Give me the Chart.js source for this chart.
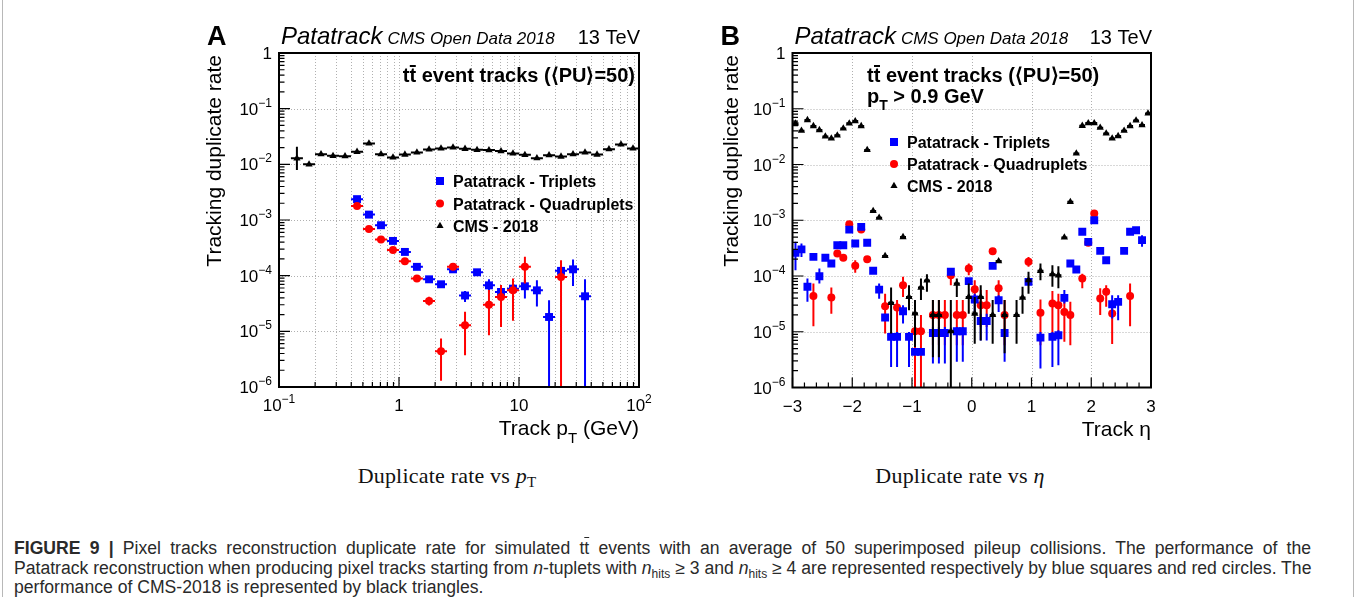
<!DOCTYPE html>
<html>
<head>
<meta charset="utf-8">
<script src="https://cdn.jsdelivr.net/npm/chart.js@4.4.0/dist/chart.umd.min.js"></script>
<style>
  body { margin: 0; background: #fff; width: 1356px; height: 597px; position: relative; overflow: hidden; font-family: "Liberation Sans", Arial, sans-serif; }
  canvas { position: absolute; top: 10px; }
  #chartA { left: 195px; }
  #chartB { left: 705px; }
  .edge { position: absolute; top: 0; width: 1px; height: 597px; background: #b8b8b8; }
  .sub { position: absolute; top: 465px; width: 280px; text-align: center; font-family: "Liberation Serif", "DejaVu Serif", serif; font-size: 22px; letter-spacing: 0.2px; line-height: 22px; color: #111; }
  .sub sub { font-size: 15px; vertical-align: -4px; line-height: 0; }
  .cap { position: absolute; left: 14px; font-size: 17.6px; line-height: 20px; color: #2a2a2a; white-space: nowrap; }
  .just { width: 1297px; text-align: justify; text-align-last: justify; }
  .cap sub { font-size: 12px; vertical-align: -4px; line-height: 0; }
  .ov { text-decoration: overline; }
</style>
</head>
<body>
<div class="edge" style="left:2px"></div>
<div class="edge" style="left:1353px"></div>
<canvas id="chartA" width="470" height="450"></canvas>
<canvas id="chartB" width="470" height="450"></canvas>
<div class="sub" style="left:307px">Duplicate rate vs <i>p</i><sub>T</sub></div>
<div class="sub" style="left:820px">Duplicate rate vs <i>η</i></div>
<div class="cap just" style="top:538px"><b>FIGURE 9 |</b> Pixel tracks reconstruction duplicate rate for simulated t<span class="ov">t</span> events with an average of 50 superimposed pileup collisions. The performance of the</div>
<div class="cap just" style="top:557.5px">Patatrack reconstruction when producing pixel tracks starting from <i>n</i>-tuplets with <i>n</i><sub>hits</sub> ≥ 3 and <i>n</i><sub>hits</sub> ≥ 4 are represented respectively by blue squares and red circles. The</div>
<div class="cap" style="top:577px">performance of CMS-2018 is represented by black triangles.</div>
<script>
// ---- panel A : duplicate rate vs pT (bin centres, GeV) ----
const ptCenters = [0.141, 0.178, 0.224, 0.282, 0.355, 0.447, 0.562, 0.708, 0.891, 1.12,
  1.41, 1.78, 2.24, 2.82, 3.55, 4.47, 5.62, 7.08, 8.91, 11.2,
  14.1, 17.8, 22.4, 28.2, 35.5, 44.7, 56.2, 70.8, 89.1];

const cmsPt = [0.0128, 0.0100, 0.0152, 0.0142, 0.0140, 0.0168, 0.0237, 0.0152, 0.0133, 0.0150,
  0.0163, 0.0185, 0.0193, 0.0201, 0.0190, 0.0182, 0.0180, 0.0173, 0.0157, 0.0148,
  0.0129, 0.0146, 0.0138, 0.0152, 0.0163, 0.0150, 0.0187, 0.0228, 0.0193];
const cmsPtLo = [0.0079, null, null, null, null, null, null, null, null, null,
  null, null, null, null, null, null, null, null, null, null,
  null, null, null, null, null, null, null, null, null];
const cmsPtHi = [0.0207, null, null, null, null, null, null, null, null, null,
  null, null, null, null, null, null, null, null, null, null,
  null, null, null, null, null, null, null, null, null];

const tripPt = [null, null, null, null, null, 2.37e-3, 1.25e-3, 8.05e-4, 4.21e-4, 2.67e-4,
  1.44e-4, 8.6e-5, 7.0e-5, 1.30e-4, 4.4e-5, 1.15e-4, 6.7e-5, 5.1e-5, 5.85e-5, 6.45e-5,
  5.45e-5, 1.81e-5, 1.22e-4, 1.30e-4, 4.26e-5, null, null, null, null];
const tripPtLo = [null, null, null, null, null, null, null, null, null, null,
  null, null, null, null, 3.37e-5, null, 5.1e-5, 4.0e-5, 4.8e-5, 3.9e-5,
  2.8e-5, 1e-7, 1.02e-4, 6.5e-5, 1e-7, null, null, null, null];
const tripPtHi = [null, null, null, null, null, null, null, null, null, null,
  null, null, null, null, 5.3e-5, null, 8.6e-5, 6.3e-5, 7.0e-5, 8.5e-5,
  8.3e-5, 3.6e-5, 1.48e-4, 1.95e-4, 8.6e-5, null, null, null, null];

const quadPt = [null, null, null, null, null, 1.79e-3, 6.9e-4, 4.45e-4, 2.9e-4, 1.82e-4,
  8.9e-5, 3.5e-5, 4.4e-6, 1.44e-4, 1.28e-5, null, 3.0e-5, 4.15e-5, 5.45e-5, 1.44e-4,
  null, null, 9.5e-5, null, null, null, null, null, null];
const quadPtLo = [null, null, null, null, null, null, null, null, null, null,
  null, 2.9e-5, 1.3e-6, null, 3.7e-6, null, 8.5e-6, 1.2e-5, 1.55e-5, 7.2e-5,
  null, null, 1e-7, null, null, null, null, null, null];
const quadPtHi = [null, null, null, null, null, null, null, null, null, null,
  null, 4.2e-5, 7.4e-6, null, 2.24e-5, null, 5.5e-5, 6.8e-5, 8.9e-5, 2.19e-4,
  null, null, 1.9e-4, null, null, null, null, null, null];

// ---- panel B : duplicate rate vs eta ----
const etaCenters = [-2.95, -2.85, -2.75, -2.65, -2.55, -2.45, -2.35, -2.25, -2.15, -2.05,
  -1.95, -1.85, -1.75, -1.65, -1.55, -1.45, -1.35, -1.25, -1.15, -1.05,
  -0.95, -0.85, -0.75, -0.65, -0.55, -0.45, -0.35, -0.25, -0.15, -0.05,
  0.05, 0.15, 0.25, 0.35, 0.45, 0.55, 0.65, 0.75, 0.85, 0.95,
  1.05, 1.15, 1.25, 1.35, 1.45, 1.55, 1.65, 1.75, 1.85, 1.95,
  2.05, 2.15, 2.25, 2.35, 2.45, 2.55, 2.65, 2.75, 2.85, 2.95];

const cmsEta = [0.0547, 0.0403, 0.0627, 0.0489, 0.0415, 0.0319, 0.0294, 0.0333, 0.0444, 0.0547,
  0.0601, 0.0489, 0.0182, 1.47e-3, 1.11e-3, 2.29e-4, 3.3e-5, null, 5.0e-4, 4.2e-5,
  2.14e-5, 6.2e-5, 8.3e-5, 2.0e-5, 2.0e-5, null, 1.02e-5, 7.3e-5, null, 4.2e-5,
  2.12e-5, 4.2e-5, null, 2.0e-5, 1.85e-4, 2.0e-5, null, 2.0e-5, 4.1e-5, 8.4e-5,
  null, 1.24e-4, null, 1.08e-4, 1.03e-4, 4.9e-4, 2.14e-3, 0.0158, 0.0495, 0.0553,
  0.0553, 0.0456, 0.0361, 0.0294, 0.0324, 0.0403, 0.0489, 0.0618, 0.0509, 0.0826];
const cmsEtaLo = [null, null, null, null, null, null, null, null, null, null,
  null, null, null, null, null, null, 9.3e-6, null, null, 2.43e-5,
  5.3e-6, 3.7e-5, 5.2e-5, 3.5e-6, 3.5e-6, null, 1e-7, 4.2e-5, null, 2.1e-5,
  6.1e-6, 7.0e-6, null, 6.1e-6, null, 4.1e-6, null, 6.1e-6, 2.1e-5, 4.8e-5,
  null, 8.4e-5, null, 6.4e-5, 6.0e-5, null, null, null, null, null,
  null, null, null, null, null, null, null, null, null, null];
const cmsEtaHi = [null, null, null, null, null, null, null, null, null, null,
  null, null, null, null, null, null, 6.2e-5, null, null, 6.8e-5,
  3.7e-5, 9.0e-5, 1.08e-4, 3.7e-5, 3.7e-5, null, 3.7e-5, 9.0e-5, null, 7.3e-5,
  4.2e-5, 6.8e-5, null, 3.7e-5, null, 3.7e-5, null, 3.7e-5, 6.4e-5, 1.19e-4,
  null, 1.67e-4, null, 1.56e-4, 1.5e-4, null, null, null, null, null,
  null, null, null, null, null, null, null, null, null, null];

const tripEta = [2.6e-4, 3.0e-4, 6.4e-5, 2.2e-4, 9.9e-5, 2.12e-4, 1.67e-4, 3.57e-4, 3.57e-4, 6.8e-4,
  3.83e-4, 7.6e-4, 3.94e-4, 1.24e-4, 5.7e-5, 1.8e-5, 8.1e-6, 8.1e-6, 2.33e-5, 8.1e-6,
  4.35e-6, 4.35e-6, null, 9.5e-6, 9.5e-6, 9.5e-6, 1.19e-4, 1.02e-5, 1.02e-5, 8.1e-5,
  3.78e-5, 1.56e-5, 1.56e-5, 1.52e-4, 3.67e-5, 9.5e-6, null, null, null, 7.85e-5,
  null, 7.85e-6, null, 8.1e-6, 8.65e-6, 4.05e-5, 1.67e-4, 1.31e-4, 6.2e-4, 4.1e-4,
  1.0e-3, 2.82e-4, 1.92e-4, 3.12e-5, 3.44e-5, 2.82e-4, 6.2e-4, 6.6e-4, 4.4e-4, null];
const tripEtaLo = [1.27e-4, 2.2e-4, 3.44e-5, null, 7.3e-5, null, null, null, null, null,
  null, null, null, null, 3.9e-5, null, 2.33e-6, 2.33e-6, 1.4e-5, 2.33e-6,
  null, null, null, 2.7e-6, 2.7e-6, 2.7e-6, null, 2.9e-6, 2.9e-6, null,
  2.1e-5, 7.0e-6, 7.0e-6, null, 2.27e-5, 2.9e-6, null, null, null, null,
  null, 2.2e-6, null, 2.33e-6, 2.5e-6, 3.2e-5, null, null, null, null,
  null, null, null, 1.73e-5, 1.61e-5, null, null, null, 3.33e-4, null];
const tripEtaHi = [4.1e-4, 3.83e-4, 9.0e-5, null, 1.36e-4, null, null, null, null, null,
  null, null, null, null, 7.3e-5, null, 9.9e-6, 9.9e-6, 3.0e-5, 9.9e-6,
  null, null, null, 1.22e-5, 1.22e-5, 1.22e-5, null, 1.22e-5, 1.22e-5, null,
  4.8e-5, 2.1e-5, 2.1e-5, null, 4.5e-5, 1.14e-5, null, null, null, null,
  null, 9.9e-6, null, 9.9e-6, 1.06e-5, 5.6e-5, null, null, null, null,
  null, null, null, 4.5e-5, 4.5e-5, null, null, null, 5.4e-4, null];

const quadEta = [null, null, null, 4.4e-5, null, null, 4.1e-5, 2.53e-4, 2.12e-4, 8.5e-4,
  1.52e-4, 6.8e-4, 2.0e-4, null, null, 2.87e-5, null, 2.72e-5, 6.8e-5, null,
  1.02e-5, 1.02e-5, null, 2.0e-5, 2.0e-5, 2.0e-5, 1.03e-4, 2.0e-5, 2.0e-5, 1.36e-4,
  5.8e-5, 3.0e-5, 3.0e-5, 2.79e-4, 6.0e-5, 2.0e-5, null, null, null, 1.8e-4,
  null, 2.2e-5, null, 3.2e-5, 3.0e-5, 2.27e-5, 2.0e-5, null, 9.0e-5, 3.94e-4,
  1.32e-3, 3.94e-5, 5.2e-5, 2.12e-5, null, null, 4.4e-5, null, null, null];
const quadEtaLo = [null, null, null, 1.26e-5, null, null, 2.1e-5, null, null, null,
  1.14e-4, null, null, null, null, 9.3e-6, null, 8.1e-6, 4.2e-5, null,
  1e-7, 1e-7, null, 5.7e-6, 5.7e-6, 5.7e-6, 6.8e-5, 5.7e-6, 5.7e-6, 1.03e-4,
  3.7e-5, 1.22e-5, 1.22e-5, null, 4.2e-5, 5.7e-6, null, null, null, 1.46e-4,
  null, 5.7e-6, null, 9.3e-6, 7.5e-6, 6.6e-6, 5.7e-6, null, 6.0e-5, null,
  null, 2.0e-5, 2.8e-5, 6.0e-6, null, null, 1.26e-5, null, null, null];
const quadEtaHi = [null, null, null, 7.3e-5, null, null, 6.2e-5, null, null, null,
  1.92e-4, null, null, null, null, 4.8e-5, null, 3.7e-5, 9.7e-5, null,
  2.0e-5, 2.0e-5, null, 3.7e-5, 3.7e-5, 3.7e-5, 1.27e-4, 3.7e-5, 3.7e-5, 1.67e-4,
  8.4e-5, 5.6e-5, 5.6e-5, null, 8.4e-5, 3.7e-5, null, null, null, 2.2e-4,
  null, 3.8e-5, null, 5.4e-5, 4.8e-5, 3.44e-5, 3.44e-5, null, 1.1e-4, null,
  null, 6.0e-5, 6.8e-5, 3.7e-5, null, null, 7.3e-5, null, null, null];

// ---- axes ----
const yTickVals = [1, 1e-1, 1e-2, 1e-3, 1e-4, 1e-5, 1e-6];
const yTickLabels = [["1", ""], ["10", "\u22121"], ["10", "\u22122"], ["10", "\u22123"], ["10", "\u22124"], ["10", "\u22125"], ["10", "\u22126"]];
const ptTickVals = [0.1, 1, 10, 100];
const ptTickLabels = [["10", "\u22121"], ["1", ""], ["10", ""], ["10", "2"]];
const etaTickVals = [-3, -2, -1, 0, 1, 2, 3];
const etaTickLabels = [["\u22123", ""], ["\u22122", ""], ["\u22121", ""], ["0", ""], ["1", ""], ["2", ""], ["3", ""]];
const legendNames = ["Patatrack - Triplets", "Patatrack - Quadruplets", "CMS - 2018"];

const SANS = '"Liberation Sans", Arial, sans-serif';
const BLUE = "#0000ff", RED = "#ff0000", BLACK = "#000000";

function series(xs, ys, lo, hi) {
  const out = [];
  xs.forEach(function (x, i) {
    if (ys[i] != null) out.push({ x: x, y: ys[i], lo: lo[i], hi: hi[i] });
  });
  return out;
}

// text runs (for sub/superscripts), returns width
function runs(ctx, parts, x, y, align) {
  let w = 0;
  parts.forEach(function (r) { ctx.font = r.f; r.w = ctx.measureText(r.t).width; w += r.w; });
  let cx = align === "right" ? x - w : align === "center" ? x - w / 2 : x;
  ctx.textAlign = "left";
  parts.forEach(function (r) {
    ctx.font = r.f;
    ctx.fillText(r.t, cx, y + (r.dy || 0));
    if (r.bar) ctx.fillRect(cx + r.w * 0.05, y - r.bar, r.w * 0.9, 2);
    cx += r.w;
  });
  return w;
}

function marker(ctx, style, color, x, y) {
  ctx.fillStyle = color;
  ctx.beginPath();
  if (style === "rect") ctx.rect(x - 4, y - 4, 8, 8);
  else if (style === "circle") ctx.arc(x, y, 4, 0, Math.PI * 2);
  else { ctx.moveTo(x, y - 4.2); ctx.lineTo(x + 3.6, y + 2.1); ctx.lineTo(x - 3.6, y + 2.1); ctx.closePath(); }
  ctx.fill();
}

const errorBars = {
  id: "errorBars",
  beforeDatasetDraw(chart, args, opts) {
    const ds = chart.data.datasets[args.index];
    const ctx = chart.ctx, a = chart.chartArea;
    const xs = chart.scales.x, ys = chart.scales.y;
    ctx.save();
    ctx.beginPath();
    ctx.rect(a.left, a.top, a.right - a.left, a.bottom - a.top);
    ctx.clip();
    ctx.strokeStyle = ds.pointBackgroundColor;
    ctx.lineWidth = 2;
    ctx.beginPath();
    ds.data.forEach(function (p) {
      const px = xs.getPixelForValue(p.x), py = ys.getPixelForValue(p.y);
      let e0, e1;
      if (opts.logX) { e0 = p.x / Math.pow(10, 0.05); e1 = p.x * Math.pow(10, 0.05); }
      else { e0 = p.x - 0.05; e1 = p.x + 0.05; }
      ctx.moveTo(xs.getPixelForValue(e0), py);
      ctx.lineTo(xs.getPixelForValue(e1), py);
      if (p.lo != null) {
        ctx.moveTo(px, ys.getPixelForValue(p.hi));
        ctx.lineTo(px, Math.min(ys.getPixelForValue(p.lo), a.bottom + 5));
      }
    });
    ctx.stroke();
    ctx.restore();
  }
};

function decor(p) {
  return {
    id: "decor",
    beforeDatasetsDraw(chart) {
      const ctx = chart.ctx, a = chart.chartArea, x = chart.scales.x, y = chart.scales.y;
      ctx.save();
      ctx.strokeStyle = "#b0b0b0";
      ctx.lineWidth = 1;
      ctx.setLineDash([1, 2]);
      ctx.beginPath();
      p.xGrid.forEach(function (v) {
        const px = Math.round(x.getPixelForValue(v)) + 0.5;
        ctx.moveTo(px, a.top); ctx.lineTo(px, a.bottom);
      });
      yTickVals.slice(1, 6).forEach(function (v) {
        const py = Math.round(y.getPixelForValue(v)) + 0.5;
        ctx.moveTo(a.left, py); ctx.lineTo(a.right, py);
      });
      ctx.stroke();
      ctx.restore();
    },
    afterDatasetsDraw(chart) {
      const ctx = chart.ctx, a = chart.chartArea, x = chart.scales.x, y = chart.scales.y;
      ctx.save();
      ctx.fillStyle = BLACK;
      ctx.strokeStyle = BLACK;
      // ticks
      ctx.lineWidth = 1.2;
      ctx.beginPath();
      yTickVals.forEach(function (v) {
        const py = y.getPixelForValue(v);
        ctx.moveTo(a.left, py); ctx.lineTo(a.left + 11, py);
        if (v < 1) {
          for (let m = 2; m <= 9; m++) {
            const q = y.getPixelForValue(v * m);
            ctx.moveTo(a.left, q); ctx.lineTo(a.left + 5.5, q);
          }
        }
      });
      p.xTickVals.forEach(function (v) {
        const px = x.getPixelForValue(v);
        ctx.moveTo(px, a.bottom); ctx.lineTo(px, a.bottom - 10);
      });
      p.xMinor.forEach(function (v) {
        const px = x.getPixelForValue(v);
        ctx.moveTo(px, a.bottom); ctx.lineTo(px, a.bottom - 5);
      });
      ctx.stroke();
      // frame
      ctx.lineWidth = 2;
      ctx.strokeRect(a.left, a.top, a.right - a.left, a.bottom - a.top);
      // tick labels
      ctx.textBaseline = "alphabetic";
      yTickVals.forEach(function (v, i) {
        const py = y.getPixelForValue(v);
        const l = yTickLabels[i];
        runs(ctx, [{ t: l[0], f: "17px " + SANS }, { t: l[1], f: "12px " + SANS, dy: -8 }], a.left - 7, py + 6, "right");
      });
      p.xTickVals.forEach(function (v, i) {
        const px = x.getPixelForValue(v);
        const l = p.xTickLabels[i];
        runs(ctx, [{ t: l[0], f: "17px " + SANS }, { t: l[1], f: "12px " + SANS, dy: -8 }], px, a.bottom + 24, "center");
      });
      // page-positioned texts
      ctx.translate(-p.ox, -p.oy);
      const L = a.left + p.ox, R = a.right + p.ox, T = a.top + p.oy, Bt = a.bottom + p.oy;
      runs(ctx, [{ t: p.letter, f: "bold 27px " + SANS }], L - 72, T - 8, "left");
      const w1 = runs(ctx, [{ t: "Patatrack", f: "italic 24px " + SANS }], L + 2, T - 9, "left");
      runs(ctx, [{ t: "CMS Open Data 2018", f: "italic 17px " + SANS }], L + 2 + w1 + 5, T - 9, "left");
      runs(ctx, [{ t: "13 TeV", f: "20px " + SANS }], R + 1, T - 9, "right");
      // y title
      ctx.save();
      ctx.translate(p.yTitleX, T + 2);
      ctx.rotate(-Math.PI / 2);
      runs(ctx, [{ t: "Tracking duplicate rate", f: "21px " + SANS }], 0, 0, "right");
      ctx.restore();
      // x title
      runs(ctx, p.xTitle, R, Bt + 48, "right");
      // header
      const B20 = "bold 20px " + SANS;
      const head = [{ t: "t", f: B20 }, { t: "t", f: B20, bar: 17 }, { t: " event tracks (\u27e8PU\u27e9=50)", f: B20 }];
      runs(ctx, head, p.headX, 82, p.headAlign);
      if (p.cut) {
        runs(ctx, [{ t: "p", f: B20 }, { t: "T", f: "bold 14px " + SANS, dy: 7 }, { t: " > 0.9 GeV", f: B20 }], p.headX, 103, "left");
      }
      // legend
      const styles = [["rect", BLUE], ["circle", RED], ["triangle", BLACK]];
      legendNames.forEach(function (name, i) {
        marker(ctx, styles[i][0], styles[i][1], p.legX, p.legY[i]);
        ctx.fillStyle = BLACK;
        runs(ctx, [{ t: name, f: "bold 16px " + SANS }], p.legX + 13, p.legY[i] + 6, "left");
      });
      ctx.restore();
    }
  };
}

function makeChart(id, p, datasets) {
  return new Chart(document.getElementById(id), {
    type: "scatter",
    data: { datasets: datasets },
    options: {
      responsive: false,
      animation: false,
      devicePixelRatio: 1,
      layout: { padding: p.pad },
      scales: {
        x: { type: p.xType, min: p.xMin, max: p.xMax, display: false },
        y: { type: "logarithmic", min: 1e-6, max: 1, display: false }
      },
      plugins: {
        legend: { display: false },
        tooltip: { enabled: false },
        errorBars: { logX: p.logX }
      }
    },
    plugins: [errorBars, decor(p)]
  });
}

function ds(label, data, color, style, r) {
  return {
    label: label, data: data,
    pointBackgroundColor: color, pointBorderColor: color, pointBorderWidth: 0,
    pointStyle: style, pointRadius: r, pointHoverRadius: r, showLine: false
  };
}

// minor ticks on the axes
const ptMinor = [];
[0.1, 1, 10].forEach(function (d) { for (let m = 2; m <= 9; m++) ptMinor.push(d * m); });
const etaMinor = [];
for (let k = 0; k <= 30; k++) etaMinor.push(-3 + 0.2 * k);

const panelA = {
  letter: "A", ox: 195, oy: 10,
  pad: { left: 84, top: 43, right: 26, bottom: 73 },
  xType: "logarithmic", xMin: 0.1, xMax: 100, logX: true,
  xGrid: ptMinor.concat([1, 10]),
  xTickVals: ptTickVals, xTickLabels: ptTickLabels, xMinor: ptMinor,
  yTitleX: 221,
  xTitle: [{ t: "Track p", f: "21px " + SANS }, { t: "T", f: "15px " + SANS, dy: 8 }, { t: " (GeV)", f: "21px " + SANS }],
  headX: 635, headAlign: "right", cut: false,
  legX: 440, legY: [181, 203.5, 226]
};
const panelB = {
  letter: "B", ox: 705, oy: 10,
  pad: { left: 87.5, top: 43, right: 24, bottom: 72.5 },
  xType: "linear", xMin: -3, xMax: 3, logX: false,
  xGrid: [-2, -1, 0, 1, 2],
  xTickVals: etaTickVals, xTickLabels: etaTickLabels, xMinor: etaMinor,
  yTitleX: 738,
  xTitle: [{ t: "Track \u03b7", f: "21px " + SANS }],
  headX: 867, headAlign: "left", cut: true,
  legX: 894, legY: [142, 164, 186]
};

makeChart("chartA", panelA, [
  ds("CMS - 2018", series(ptCenters, cmsPt, cmsPtLo, cmsPtHi), BLACK, "triangle", 4.2),
  ds("Patatrack - Quadruplets", series(ptCenters, quadPt, quadPtLo, quadPtHi), RED, "circle", 4),
  ds("Patatrack - Triplets", series(ptCenters, tripPt, tripPtLo, tripPtHi), BLUE, "rect", 5.6)
]);
makeChart("chartB", panelB, [
  ds("CMS - 2018", series(etaCenters, cmsEta, cmsEtaLo, cmsEtaHi), BLACK, "triangle", 4.2),
  ds("Patatrack - Triplets", series(etaCenters, tripEta, tripEtaLo, tripEtaHi), BLUE, "rect", 5.6),
  ds("Patatrack - Quadruplets", series(etaCenters, quadEta, quadEtaLo, quadEtaHi), RED, "circle", 4)
]);
</script>
</body>
</html>
